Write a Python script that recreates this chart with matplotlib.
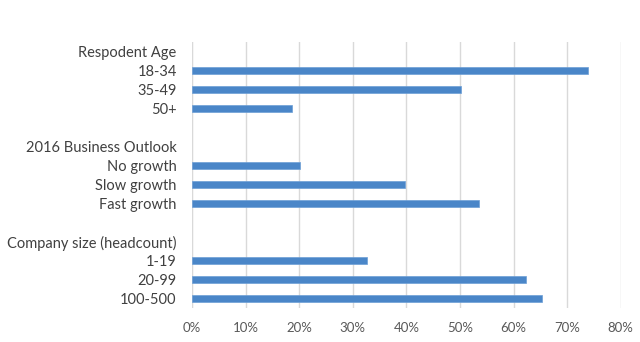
import matplotlib.pyplot as plt
import numpy as np
from matplotlib.ticker import PercentFormatter

# rows top to bottom; None marks group headers / spacer rows
labels = [
    "Respodent Age", "18-34", "35-49", "50+", "",
    "2016 Business Outlook", "No growth", "Slow growth", "Fast growth", "",
    "Company size (headcount)", "1-19", "20-99", "100-500",
]
values = [
    None, 0.738, 0.501, 0.187, None,
    None, 0.202, 0.398, 0.536, None,
    None, 0.327, 0.623, 0.653,
]
ticks = [0, 0.1, 0.2, 0.3, 0.4, 0.5, 0.6, 0.7, 0.8]

plt.rcParams["font.family"] = ["Lato", "DejaVu Sans"]

fig = plt.figure(figsize=(6.4, 3.42), dpi=100)
ax = fig.add_axes([0.3, 0.099, 0.670, 0.778])

y = np.arange(len(labels))
bar_y = [i for i, v in zip(y, values) if v is not None]
bar_v = [v for v in values if v is not None]
ax.barh(bar_y, bar_v, height=0.38, color="#4a86c8", edgecolor="#6d9fd6", linewidth=0.5, zorder=3)

ax.set_ylim(len(labels) - 0.5, -0.5)
ax.set_yticks(y)
ax.set_yticklabels(labels, fontsize=10.5, color="#404040")
ax.set_xlim(0, 0.8)
ax.set_xticks(ticks)
ax.xaxis.set_major_formatter(PercentFormatter(1.0, decimals=0))
ax.tick_params(axis="x", labelsize=9.5, colors="#595959", length=0, pad=10)
ax.tick_params(axis="y", length=0, pad=11)
ax.grid(axis="x", color="#d9d9d9", linewidth=1, zorder=0)
for s in ax.spines.values():
    s.set_visible(False)
ax.axvline(0, color="#d9d9d9", linewidth=1.5, zorder=1)

plt.savefig("out.png", dpi=100)
plt.close()
